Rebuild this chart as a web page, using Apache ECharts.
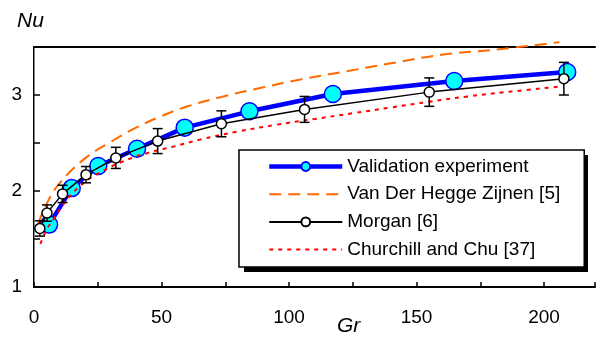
<!DOCTYPE html>
<html>
<head>
<meta charset="utf-8">
<script src="https://cdn.jsdelivr.net/npm/echarts@6/dist/echarts.min.js"></script>
<style>html,body{margin:0;padding:0;background:#fff}#c{width:598px;height:340px}</style>
</head>
<body>
<div id="c"></div>
<script>
// ---- data ----
var seriesNames = ['Validation experiment', 'Van Der Hegge Zijnen [5]', 'Morgan [6]', 'Churchill and Chu [37]'];
var xTickLabels = [0, 50, 100, 150, 200];
var yTickLabels = [1, 2, 3];

var valGr = [5.9, 14.8, 25.2, 40.4, 59.1, 84.5, 117.2, 164.8, 209.1];
var valNu = [1.65, 2.03, 2.26, 2.44, 2.66, 2.83, 3.01, 3.145, 3.24];

var morganGr = [2.3, 5.1, 11.2, 20.4, 32.1, 48.5, 73.5, 106.1, 155, 207.8];
var morganNu = [1.61, 1.77, 1.97, 2.17, 2.345, 2.52, 2.70, 2.85, 3.03, 3.17];
var morganErr = [0.08, 0.085, 0.09, 0.085, 0.11, 0.13, 0.135, 0.135, 0.148, 0.17];

var vanGr = [1.5, 5, 10, 20, 30, 40, 50, 60, 75, 90, 105, 120, 140, 160, 180, 206];
var vanNu = [1.65, 1.87, 2.08, 2.34, 2.51, 2.66, 2.78, 2.88, 2.99, 3.08, 3.165, 3.235, 3.33, 3.42, 3.47, 3.55];

var churchGr = [2.5, 5, 8, 12, 18, 25, 35, 45, 55, 65, 80, 95, 110, 125, 140, 155, 170, 185, 207];
var churchNu = [1.45, 1.60, 1.72, 1.88, 2.05, 2.18, 2.31, 2.40, 2.465, 2.535, 2.62, 2.69, 2.75, 2.81, 2.87, 2.93, 2.985, 3.03, 3.09];

function pairs(xs, ys) { return xs.map(function (x, i) { return [x, ys[i]]; }); }
var errData = morganGr.map(function (x, i) { return [x, morganNu[i], morganErr[i]]; });

var FONT = 'Liberation Sans, Arial, sans-serif';
var NOSYM = { color: 'rgba(0,0,0,0)', borderWidth: 0, borderColor: 'rgba(0,0,0,0)' };
var chart = echarts.init(document.getElementById('c'), null, { renderer: 'canvas' });

chart.setOption({
  animation: false,
  backgroundColor: '#fff',
  title: [
    { text: 'Nu', left: 12, top: 6, textStyle: { fontFamily: FONT, fontStyle: 'italic', fontWeight: 'normal', fontSize: 21, color: '#000' } },
    { text: 'Gr', left: 332, top: 311, textStyle: { fontFamily: FONT, fontStyle: 'italic', fontWeight: 'normal', fontSize: 21, color: '#000' } }
  ],
  graphic: [
    // legend drop shadow
    { type: 'rect', z: 1, shape: { x: 244, y: 155, width: 344, height: 117 }, style: { fill: '#000' } }
  ],
  grid: { left: 34, right: 3, top: 47, bottom: 53, containLabel: false },
  legend: {
    orient: 'vertical',
    left: 239, top: 150, z: 10,
    data: [
      { name: seriesNames[0], lineStyle: { width: 4.5 } },
      { name: seriesNames[1], itemStyle: NOSYM },
      { name: seriesNames[2] },
      { name: seriesNames[3], itemStyle: NOSYM }
    ],
    itemWidth: 73, itemHeight: 11, itemGap: 8.7,
    padding: [7, 24, 8, 28],
    backgroundColor: '#fff',
    borderColor: '#000', borderWidth: 1.5,
    textStyle: { fontFamily: FONT, fontSize: 19, color: '#000' },
    selectedMode: false
  },
  xAxis: [{
    type: 'value', min: 0, max: 220, interval: 25,
    axisLine: { show: true, lineStyle: { color: '#000', width: 2 } },
    axisTick: { show: true, inside: true, length: 5, lineStyle: { color: '#000', width: 1.5 } },
    axisLabel: { margin: 21, fontFamily: FONT, fontSize: 19, color: '#000',
      formatter: function (v) { return xTickLabels.indexOf(v) >= 0 ? String(v) : ''; } },
    splitLine: { show: false }
  }, {
    type: 'value', position: 'top', min: 0, max: 220,
    axisLine: { show: true, lineStyle: { color: '#000', width: 2 } },
    axisTick: { show: false }, axisLabel: { show: false }, splitLine: { show: false }
  }],
  yAxis: [{
    type: 'value', min: 1, max: 3.5, interval: 0.5,
    axisLine: { show: true, lineStyle: { color: '#000', width: 2 } },
    axisTick: { show: true, inside: true, length: 6, lineStyle: { color: '#000', width: 1.5 } },
    axisLabel: { margin: 12, fontFamily: FONT, fontSize: 19, color: '#000',
      formatter: function (v) { return yTickLabels.indexOf(v) >= 0 ? String(v) : ''; } },
    splitLine: { show: false }
  }, {
    type: 'value', position: 'right', min: 1, max: 3.5,
    axisLine: { show: true, lineStyle: { color: '#888', width: 1 } },
    axisTick: { show: false }, axisLabel: { show: false }, splitLine: { show: false }
  }],
  series: [
    {
      name: seriesNames[0], type: 'line', data: pairs(valGr, valNu),
      symbol: 'circle', symbolSize: 17, z: 3,
      lineStyle: { color: '#0000FF', width: 4.5 },
      itemStyle: { color: '#00FFFF', borderColor: '#0000FF', borderWidth: 1.5 }
    },
    {
      name: seriesNames[1], type: 'line', data: pairs(vanGr, vanNu),
      symbol: 'none', smooth: 0.4, clip: false, z: 2,
      lineStyle: { color: '#FF6A00', width: 2, type: [12, 7] },
      itemStyle: { color: '#FF6A00' }
    },
    {
      name: seriesNames[3], type: 'line', data: pairs(churchGr, churchNu),
      symbol: 'none', smooth: 0.4, z: 4,
      lineStyle: { color: '#FF0000', width: 2, type: [4, 5] },
      itemStyle: { color: '#FF0000' }
    },
    {
      type: 'custom', z: 5, silent: true,
      data: errData,
      renderItem: function (params, api) {
        var x = api.value(0), y = api.value(1), e = api.value(2);
        var top = api.coord([x, y + e]);
        var bot = api.coord([x, y - e]);
        var hw = 5;
        var st = { stroke: '#000', lineWidth: 1.5 };
        return {
          type: 'group', children: [
            { type: 'line', shape: { x1: top[0], y1: top[1], x2: bot[0], y2: bot[1] }, style: st },
            { type: 'line', shape: { x1: top[0] - hw, y1: top[1], x2: top[0] + hw, y2: top[1] }, style: st },
            { type: 'line', shape: { x1: bot[0] - hw, y1: bot[1], x2: bot[0] + hw, y2: bot[1] }, style: st }
          ]
        };
      }
    },
    {
      name: seriesNames[2], type: 'line', data: pairs(morganGr, morganNu),
      symbol: 'circle', symbolSize: 10, z: 6,
      lineStyle: { color: '#000', width: 1.5 },
      itemStyle: { color: '#fff', borderColor: '#000', borderWidth: 1.5 }
    }
  ]
});
</script>
</body>
</html>
